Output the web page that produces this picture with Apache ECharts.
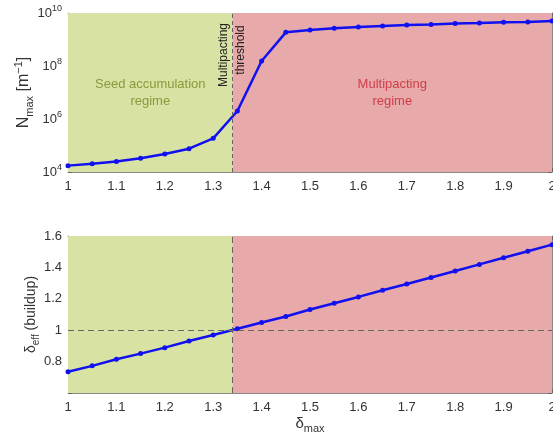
<!DOCTYPE html>
<html><head><meta charset="utf-8">
<script src="https://cdn.jsdelivr.net/npm/echarts@6/dist/echarts.min.js"></script>
<style>html,body{margin:0;padding:0;background:#fff}#c{width:553px;height:436px}</style>
</head><body><div id="c"></div>
<script>
const deltaMax = [1,1.05,1.1,1.15,1.2,1.25,1.3,1.35,1.4,1.45,1.5,1.55,1.6,1.65,1.7,1.75,1.8,1.85,1.9,1.95,2];
const nMax = [1.74e4,2.04e4,2.5e4,3.3e4,4.8e4,7.6e4,1.86e5,2.0e6,1.55e8,1.86e9,2.29e9,2.63e9,2.95e9,3.24e9,3.55e9,3.72e9,3.98e9,4.17e9,4.47e9,4.57e9,5.0e9];
const deltaEff = [0.735,0.773,0.815,0.851,0.889,0.931,0.969,1.009,1.049,1.087,1.132,1.172,1.212,1.254,1.294,1.336,1.377,1.419,1.461,1.503,1.545];
const threshold = 1.34;
const xTicks = ['1','1.1','1.2','1.3','1.4','1.5','1.6','1.7','1.8','1.9','2'];

const FONT = '"Liberation Sans", Arial, sans-serif';
const axisCol = '#8a8a8a';
const green = '#d7e2a3', red = '#e8a9aa';
const blue = '#1010f0';

const chart = echarts.init(document.getElementById('c'));
const lbl = {color:'#333', fontSize:13, fontFamily:FONT};
function xAx(grid, pos, show, name){
  return {type:'value', gridIndex:grid, position:pos, min:1, max:2, interval:0.1,
    axisLine:{show:true, onZero:false, lineStyle:{color:axisCol}},
    axisTick:{show:true, inside:true, length:4, lineStyle:{color:'#666'}},
    splitLine:{show:false},
    axisLabel:{show:show, ...lbl, margin:8, formatter:v=>{const i=Math.round((v-1)*10);return xTicks[i]!==undefined?xTicks[i]:'';}},
    name: name||'', nameLocation:'middle', nameGap:20, nameMoveOverlap:false,
    nameTextStyle:{color:'#333', fontFamily:FONT, rich:{n:{fontSize:15,color:'#333',fontFamily:FONT}, s:{fontSize:11,color:'#333',fontFamily:FONT, padding:[10,0,0,0]}}}
  };
}
const supRich = {b:{fontSize:13,color:'#333',fontFamily:FONT}, s:{fontSize:9,color:'#333',fontFamily:FONT,padding:[0,0,9,0]}};
function yLog(pos, show){
  return {type:'log', logBase:10, gridIndex:0, position:pos, min:1e4, max:1e10, interval:2,
    axisLine:{show:true, onZero:false, lineStyle:{color:axisCol}},
    axisTick:{show:true, inside:true, length:4, lineStyle:{color:'#666'}},
    splitLine:{show:false}, minorTick:{show:false},
    axisLabel:{show:show, margin:6, formatter:v=>{const e=Math.round(Math.log10(v)); return (e%2===0)?'{b|10}{s|'+e+'}':'';}, rich:supRich},
    name: show ? '{n|N}{s|max}{n| [m}{p|−1}{n|]}' : '', nameLocation:'middle', nameGap:33, nameMoveOverlap:false,
    nameTextStyle:{rich:{n:{fontSize:16,color:'#333',fontFamily:FONT}, s:{fontSize:11,color:'#333',fontFamily:FONT,padding:[12,0,0,0]}, p:{fontSize:11,color:'#333',fontFamily:FONT,padding:[0,0,10,0]}}}
  };
}
function yLin(pos, show){
  return {type:'value', gridIndex:1, position:pos, min:0.6, max:1.6, interval:0.2,
    axisLine:{show:true, onZero:false, lineStyle:{color:axisCol}},
    axisTick:{show:true, inside:true, length:4, lineStyle:{color:'#666'}},
    splitLine:{show:false},
    axisLabel:{show:show, ...lbl, margin:6, formatter:v=>{if(Math.abs(v-0.6)<1e-6) return ''; return String(Math.round(v*10)/10);}},
    name: show ? '{n|δ}{s|eff}{n| (buildup)}' : '', nameLocation:'middle', nameGap:27, nameMoveOverlap:false,
    nameTextStyle:{rich:{n:{fontSize:14,color:'#333',fontFamily:FONT}, s:{fontSize:10,color:'#333',fontFamily:FONT,padding:[10,0,0,0]}}}
  };
}
const topPts = deltaMax.map((x,i)=>[x,nMax[i]]);
const botPts = deltaMax.map((x,i)=>[x,deltaEff[i]]);
const regions = (labels)=>({silent:true, data:[
  [{xAxis:1, itemStyle:{color:green, opacity:1}, label:{show:labels, position:'inside', formatter:'Seed accumulation\nregime', color:'#8a9a3c', fontSize:13, fontFamily:FONT, lineHeight:17}},{xAxis:threshold}],
  [{xAxis:threshold, itemStyle:{color:red, opacity:1}, label:{show:labels, position:'inside', formatter:'Multipacting\nregime', color:'#cf3e48', fontSize:13, fontFamily:FONT, lineHeight:17}},{xAxis:2}]
]});
chart.setOption({
  animation:false,
  grid:[{left:68, right:1, top:13, bottom:264, outerBoundsMode:'none', containLabel:false},{left:68, right:1, top:236, bottom:43, outerBoundsMode:'none', containLabel:false}],
  xAxis:[xAx(0,'bottom',true), xAx(0,'top',false), xAx(1,'bottom',true,'{n|δ}{s|max}'), xAx(1,'top',false)],
  yAxis:[yLog('left',true), yLog('right',false), yLin('left',true), yLin('right',false)],
  series:[
    {type:'line', xAxisIndex:0, yAxisIndex:0, data:topPts, symbol:'circle', symbolSize:5, showSymbol:true,
     lineStyle:{color:blue, width:2.5}, itemStyle:{color:blue},
     markArea:regions(true),
     markLine:{silent:true, symbol:'none', label:{show:false}, lineStyle:{color:'#666', type:[4,3], width:1}, data:[{xAxis:threshold}]}},
    {type:'line', xAxisIndex:2, yAxisIndex:2, data:botPts, symbol:'circle', symbolSize:5,
     lineStyle:{color:blue, width:2.5}, itemStyle:{color:blue},
     markArea:regions(false),
     markLine:{silent:true, symbol:'none', label:{show:false}, lineStyle:{color:'#666', type:[6,4], width:1}, data:[{xAxis:threshold},{yAxis:1}]}}
  ],
  graphic:[
    {type:'text', x:224, y:55, rotation:Math.PI/2, z:100, style:{text:'Multipacting', fill:'#222', fontSize:12, fontFamily:FONT, align:'center', verticalAlign:'middle'}},
    {type:'text', x:241, y:50, rotation:Math.PI/2, z:100, style:{text:'threshold', fill:'#222', fontSize:12, fontFamily:FONT, align:'center', verticalAlign:'middle'}}
  ]
});
</script></body></html>
